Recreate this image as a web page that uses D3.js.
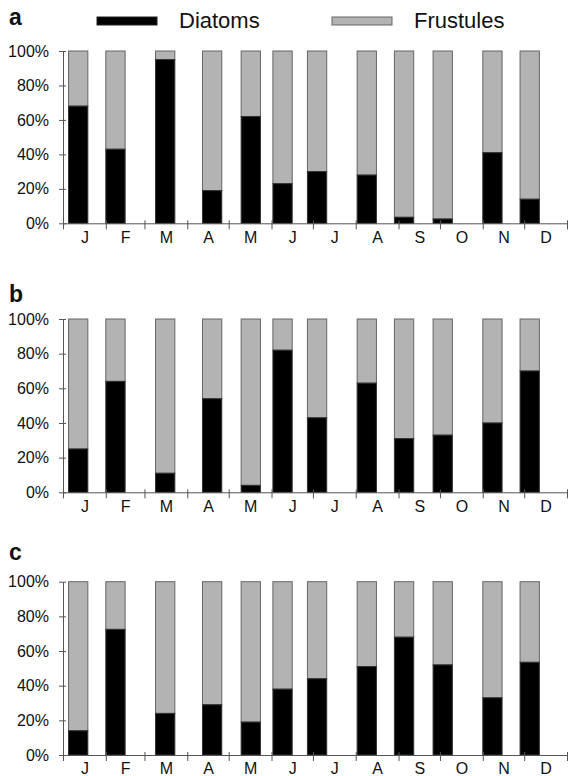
<!DOCTYPE html>
<html><head><meta charset="utf-8">
<script src="https://cdn.jsdelivr.net/npm/d3@7"></script>
<style>
html,body{margin:0;padding:0;background:#fff;}
svg{display:block;}
text{font-family:"Liberation Sans",Arial,sans-serif;}
</style></head>
<body>
<svg id="chart" width="568" height="776"></svg>
<script>
// ---- data ----
const sampleDates = ["2001-01-12","2001-02-08","2001-03-16","2001-04-19","2001-05-17","2001-06-09",
                     "2001-07-04","2001-08-09","2001-09-05","2001-10-03","2001-11-08","2001-12-05"];
const monthLabels = ["J","F","M","A","M","J","J","A","S","O","N","D"];
const panelLabels = ["a","b","c"];
const diatomsA = [68, 43, 95, 19, 62, 23, 30, 28, 3.5, 2.5, 41, 14];
const diatomsB = [25, 64, 11, 54, 4, 82, 43, 63, 31, 33, 40, 70];
const diatomsC = [14, 72.5, 24, 29, 19, 38, 44, 51, 68, 52, 33, 53.5];
const yTicks = [0, 20, 40, 60, 80, 100];
const seriesNames = ["Diatoms", "Frustules"];

// ---- layout ----
const svg = d3.select("#chart");
const left = 63, right = 567;
const panels = [
  {label: panelLabels[0], vals: diatomsA, top: 51, bottom: 223.3, labelY: 24.5},
  {label: panelLabels[1], vals: diatomsB, top: 319, bottom: 492.3, labelY: 301.5},
  {label: panelLabels[2], vals: diatomsC, top: 581.7, bottom: 755, labelY: 560}
];
const parse = d3.utcParse("%Y-%m-%d");
const dates = sampleDates.map(parse);
const x = d3.scaleUtc().domain([Date.UTC(2001,0,1), Date.UTC(2002,0,1)]).range([left, right]);
const monthStarts = d3.utcMonth.range(new Date(Date.UTC(2001,0,1)), new Date(Date.UTC(2002,0,2)));
const monthMids = d3.utcMonth.range(new Date(Date.UTC(2001,0,1)), new Date(Date.UTC(2002,0,1)))
  .map(d => new Date((+d + +d3.utcMonth.offset(d,1)) / 2));
const barW = 19.3;
const axisCol = "#555";
const blackFill = "#000", greyFill = "#b3b3b3";

panels.forEach(p => {
  const y = d3.scaleLinear().domain([0, 100]).range([p.bottom, p.top]);
  const g = svg.append("g");

  // bars
  const rows = dates.map((d, i) => ({date: d, v: p.vals[i]}));
  g.selectAll("rect.fr").data(rows).join("rect").attr("class","fr")
    .attr("x", d => x(d.date) - barW/2).attr("width", barW)
    .attr("y", y(100)).attr("height", d => y(d.v) - y(100))
    .attr("fill", greyFill).attr("stroke", "#666").attr("stroke-width", 1);
  g.selectAll("rect.di").data(rows).join("rect").attr("class","di")
    .attr("x", d => x(d.date) - barW/2).attr("width", barW)
    .attr("y", d => y(d.v)).attr("height", d => y(0) - y(d.v))
    .attr("fill", blackFill).attr("stroke", "#333").attr("stroke-width", 1);

  // y axis
  const ya = g.append("g").attr("transform", `translate(${left},0)`)
    .call(d3.axisLeft(y).tickValues(yTicks).tickFormat(d => d + "%").tickSizeOuter(0).tickSizeInner(4).tickPadding(10));
  ya.select(".domain").attr("stroke", axisCol);
  ya.selectAll(".tick line").attr("stroke", axisCol).attr("x1", 3);
  ya.selectAll(".tick text").attr("font-size", 16).attr("fill", "#111")
    .attr("font-family", "'Liberation Sans', Arial, sans-serif");

  // x axis: month boundary ticks
  const xa = g.append("g").attr("transform", `translate(0,${p.bottom})`)
    .call(d3.axisBottom(x).tickValues(monthStarts).tickFormat("").tickSizeOuter(0).tickSizeInner(6));
  xa.select(".domain").attr("stroke", axisCol);
  xa.selectAll(".tick line").attr("stroke", axisCol).attr("y1", -3);

  // month labels centered in months
  const xl = g.append("g").attr("transform", `translate(0,${p.bottom})`)
    .call(d3.axisBottom(x).tickValues(monthMids).tickFormat((d, i) => monthLabels[i]).tickSize(0).tickPadding(8));
  xl.select(".domain").remove();
  xl.selectAll(".tick text").attr("font-size", 16).attr("fill", "#111")
    .attr("font-family", "'Liberation Sans', Arial, sans-serif");

  // panel label
  svg.append("text").attr("x", 9).attr("y", p.labelY).text(p.label)
    .attr("font-size", 23).attr("font-weight", "bold").attr("fill", "#111");
});

// legend
const leg = svg.append("g");
leg.append("rect").attr("x", 97).attr("y", 17).attr("width", 60).attr("height", 8)
  .attr("fill", blackFill).attr("stroke", "#222");
leg.append("text").attr("x", 179).attr("y", 28).text(seriesNames[0])
  .attr("font-size", 22).attr("fill", "#111");
leg.append("rect").attr("x", 332).attr("y", 17).attr("width", 60).attr("height", 8)
  .attr("fill", greyFill).attr("stroke", "#666");
leg.append("text").attr("x", 414).attr("y", 28).text(seriesNames[1])
  .attr("font-size", 22).attr("fill", "#111");
</script>
</body></html>
